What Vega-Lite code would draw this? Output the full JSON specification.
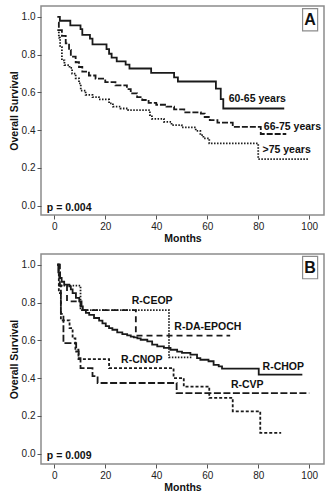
{
  "$schema": "https://vega.github.io/schema/vega-lite/v6.json",
  "padding": {"left": 8, "top": 5, "right": 0, "bottom": 0},
  "background": "white",
  "spacing": 8,
  "resolve": {"scale": {"strokeDash": "independent"}},
  "config": {
    "view": {"stroke": "#8c8c8c", "strokeWidth": 1.5},
    "font": "Liberation Sans",
    "axis": {
      "domain": false, "grid": false, "tickColor": "#555", "tickSize": 4, "tickWidth": 1,
      "labelFont": "Liberation Sans", "labelFontSize": 10, "labelColor": "#222", "labelPadding": 2,
      "titleFont": "Liberation Sans", "titleFontSize": 10.5, "titleFontWeight": "bold", "titleColor": "#111", "titlePadding": 2
    }
  },
  "datasets": {
    "curves": [
      {"panel":"A","group":"60-65","month":1.2,"surv":1.0},
      {"panel":"A","group":"60-65","month":2.2,"surv":0.98},
      {"panel":"A","group":"60-65","month":6.3,"surv":0.955},
      {"panel":"A","group":"60-65","month":10.3,"surv":0.935},
      {"panel":"A","group":"60-65","month":11,"surv":0.905},
      {"panel":"A","group":"60-65","month":14,"surv":0.885},
      {"panel":"A","group":"60-65","month":15,"surv":0.855},
      {"panel":"A","group":"60-65","month":20.5,"surv":0.83},
      {"panel":"A","group":"60-65","month":21.5,"surv":0.805},
      {"panel":"A","group":"60-65","month":22.5,"surv":0.785},
      {"panel":"A","group":"60-65","month":24.5,"surv":0.765},
      {"panel":"A","group":"60-65","month":28,"surv":0.748},
      {"panel":"A","group":"60-65","month":29.5,"surv":0.727},
      {"panel":"A","group":"60-65","month":38,"surv":0.704},
      {"panel":"A","group":"60-65","month":47,"surv":0.68},
      {"panel":"A","group":"60-65","month":48.5,"surv":0.658},
      {"panel":"A","group":"60-65","month":63.4,"surv":0.62},
      {"panel":"A","group":"60-65","month":65.3,"surv":0.565},
      {"panel":"A","group":"60-65","month":66.3,"surv":0.515},
      {"panel":"A","group":"60-65","month":90.2,"surv":0.515},

      {"panel":"A","group":"66-75","month":1.5,"surv":0.97},
      {"panel":"A","group":"66-75","month":1.8,"surv":0.93},
      {"panel":"A","group":"66-75","month":3,"surv":0.90},
      {"panel":"A","group":"66-75","month":4.5,"surv":0.86},
      {"panel":"A","group":"66-75","month":5.8,"surv":0.825},
      {"panel":"A","group":"66-75","month":6.5,"surv":0.79},
      {"panel":"A","group":"66-75","month":8.4,"surv":0.76},
      {"panel":"A","group":"66-75","month":9.7,"surv":0.735},
      {"panel":"A","group":"66-75","month":11,"surv":0.71},
      {"panel":"A","group":"66-75","month":13.6,"surv":0.69},
      {"panel":"A","group":"66-75","month":16.2,"surv":0.673},
      {"panel":"A","group":"66-75","month":20,"surv":0.655},
      {"panel":"A","group":"66-75","month":24,"surv":0.638},
      {"panel":"A","group":"66-75","month":28.5,"surv":0.618},
      {"panel":"A","group":"66-75","month":30,"surv":0.595},
      {"panel":"A","group":"66-75","month":32.5,"surv":0.575},
      {"panel":"A","group":"66-75","month":34.5,"surv":0.56},
      {"panel":"A","group":"66-75","month":37,"surv":0.545},
      {"panel":"A","group":"66-75","month":40,"surv":0.535},
      {"panel":"A","group":"66-75","month":44,"surv":0.525},
      {"panel":"A","group":"66-75","month":47,"surv":0.51},
      {"panel":"A","group":"66-75","month":51,"surv":0.495},
      {"panel":"A","group":"66-75","month":57.5,"surv":0.488},
      {"panel":"A","group":"66-75","month":59,"surv":0.47},
      {"panel":"A","group":"66-75","month":61,"surv":0.453},
      {"panel":"A","group":"66-75","month":64,"surv":0.44},
      {"panel":"A","group":"66-75","month":70,"surv":0.418},
      {"panel":"A","group":"66-75","month":81,"surv":0.38},
      {"panel":"A","group":"66-75","month":91,"surv":0.38},

      {"panel":"A","group":">75","month":1.2,"surv":0.93},
      {"panel":"A","group":">75","month":1.8,"surv":0.89},
      {"panel":"A","group":">75","month":2.3,"surv":0.84},
      {"panel":"A","group":">75","month":3,"surv":0.77},
      {"panel":"A","group":">75","month":4,"surv":0.745},
      {"panel":"A","group":">75","month":6,"surv":0.73},
      {"panel":"A","group":">75","month":7,"surv":0.70},
      {"panel":"A","group":">75","month":8.4,"surv":0.675},
      {"panel":"A","group":">75","month":9.7,"surv":0.648},
      {"panel":"A","group":">75","month":10.4,"surv":0.61},
      {"panel":"A","group":">75","month":12.3,"surv":0.587},
      {"panel":"A","group":">75","month":15,"surv":0.575},
      {"panel":"A","group":">75","month":17.5,"surv":0.563},
      {"panel":"A","group":">75","month":21.5,"surv":0.542},
      {"panel":"A","group":">75","month":23,"surv":0.525},
      {"panel":"A","group":">75","month":26,"surv":0.515},
      {"panel":"A","group":">75","month":29,"surv":0.506},
      {"panel":"A","group":">75","month":37.5,"surv":0.48},
      {"panel":"A","group":">75","month":38.3,"surv":0.46},
      {"panel":"A","group":">75","month":43,"surv":0.444},
      {"panel":"A","group":">75","month":46,"surv":0.427},
      {"panel":"A","group":">75","month":50,"surv":0.415},
      {"panel":"A","group":">75","month":55.5,"surv":0.397},
      {"panel":"A","group":">75","month":57.3,"surv":0.374},
      {"panel":"A","group":">75","month":58.5,"surv":0.357},
      {"panel":"A","group":">75","month":60.8,"surv":0.33},
      {"panel":"A","group":">75","month":80,"surv":0.247},
      {"panel":"A","group":">75","month":100,"surv":0.247},

      {"panel":"B","group":"R-CHOP","month":1.2,"surv":1.0},
      {"panel":"B","group":"R-CHOP","month":1.6,"surv":0.96},
      {"panel":"B","group":"R-CHOP","month":2.3,"surv":0.93},
      {"panel":"B","group":"R-CHOP","month":2.9,"surv":0.91},
      {"panel":"B","group":"R-CHOP","month":3.9,"surv":0.895},
      {"panel":"B","group":"R-CHOP","month":5.9,"surv":0.886},
      {"panel":"B","group":"R-CHOP","month":6.5,"surv":0.87},
      {"panel":"B","group":"R-CHOP","month":7.2,"surv":0.85},
      {"panel":"B","group":"R-CHOP","month":8.5,"surv":0.825},
      {"panel":"B","group":"R-CHOP","month":9.8,"surv":0.806},
      {"panel":"B","group":"R-CHOP","month":10.7,"surv":0.78},
      {"panel":"B","group":"R-CHOP","month":11.2,"surv":0.76},
      {"panel":"B","group":"R-CHOP","month":12.4,"surv":0.745},
      {"panel":"B","group":"R-CHOP","month":13.7,"surv":0.735},
      {"panel":"B","group":"R-CHOP","month":15.6,"surv":0.718},
      {"panel":"B","group":"R-CHOP","month":17.6,"surv":0.704},
      {"panel":"B","group":"R-CHOP","month":18.9,"surv":0.69},
      {"panel":"B","group":"R-CHOP","month":20.2,"surv":0.675},
      {"panel":"B","group":"R-CHOP","month":21.5,"surv":0.665},
      {"panel":"B","group":"R-CHOP","month":22.8,"surv":0.656},
      {"panel":"B","group":"R-CHOP","month":24.7,"surv":0.642},
      {"panel":"B","group":"R-CHOP","month":26.7,"surv":0.633},
      {"panel":"B","group":"R-CHOP","month":28.6,"surv":0.626},
      {"panel":"B","group":"R-CHOP","month":30,"surv":0.62},
      {"panel":"B","group":"R-CHOP","month":31.2,"surv":0.615},
      {"panel":"B","group":"R-CHOP","month":32.6,"surv":0.61},
      {"panel":"B","group":"R-CHOP","month":33.9,"surv":0.603},
      {"panel":"B","group":"R-CHOP","month":36.5,"surv":0.594},
      {"panel":"B","group":"R-CHOP","month":38.4,"surv":0.577},
      {"panel":"B","group":"R-CHOP","month":40.4,"surv":0.568},
      {"panel":"B","group":"R-CHOP","month":43,"surv":0.56},
      {"panel":"B","group":"R-CHOP","month":45.6,"surv":0.55},
      {"panel":"B","group":"R-CHOP","month":48.2,"surv":0.54},
      {"panel":"B","group":"R-CHOP","month":50.1,"surv":0.533},
      {"panel":"B","group":"R-CHOP","month":53.4,"surv":0.524},
      {"panel":"B","group":"R-CHOP","month":56,"surv":0.506},
      {"panel":"B","group":"R-CHOP","month":57.3,"surv":0.497},
      {"panel":"B","group":"R-CHOP","month":60.5,"surv":0.489},
      {"panel":"B","group":"R-CHOP","month":62.5,"surv":0.47},
      {"panel":"B","group":"R-CHOP","month":64.5,"surv":0.462},
      {"panel":"B","group":"R-CHOP","month":65.8,"surv":0.45},
      {"panel":"B","group":"R-CHOP","month":80.2,"surv":0.418},
      {"panel":"B","group":"R-CHOP","month":97.3,"surv":0.418},

      {"panel":"B","group":"R-CEOP","month":2.5,"surv":0.89},
      {"panel":"B","group":"R-CEOP","month":10.3,"surv":0.76},
      {"panel":"B","group":"R-CEOP","month":45,"surv":0.51},
      {"panel":"B","group":"R-CEOP","month":54,"surv":0.51},

      {"panel":"B","group":"R-DA-EPOCH","month":1.2,"surv":1.0},
      {"panel":"B","group":"R-DA-EPOCH","month":2,"surv":0.89},
      {"panel":"B","group":"R-DA-EPOCH","month":5,"surv":0.806},
      {"panel":"B","group":"R-DA-EPOCH","month":10.3,"surv":0.76},
      {"panel":"B","group":"R-DA-EPOCH","month":32,"surv":0.625},
      {"panel":"B","group":"R-DA-EPOCH","month":69,"surv":0.625},

      {"panel":"B","group":"R-CVP","month":1.2,"surv":1.0},
      {"panel":"B","group":"R-CVP","month":2.2,"surv":0.89},
      {"panel":"B","group":"R-CVP","month":2.6,"surv":0.74},
      {"panel":"B","group":"R-CVP","month":3.6,"surv":0.585},
      {"panel":"B","group":"R-CVP","month":8.6,"surv":0.54},
      {"panel":"B","group":"R-CVP","month":9.6,"surv":0.506},
      {"panel":"B","group":"R-CVP","month":10.3,"surv":0.453},
      {"panel":"B","group":"R-CVP","month":15,"surv":0.41},
      {"panel":"B","group":"R-CVP","month":17,"surv":0.374},
      {"panel":"B","group":"R-CVP","month":48,"surv":0.32},
      {"panel":"B","group":"R-CVP","month":100,"surv":0.32},

      {"panel":"B","group":"R-CNOP","month":1.2,"surv":1.0},
      {"panel":"B","group":"R-CNOP","month":1.8,"surv":0.85},
      {"panel":"B","group":"R-CNOP","month":2.6,"surv":0.706},
      {"panel":"B","group":"R-CNOP","month":6,"surv":0.665},
      {"panel":"B","group":"R-CNOP","month":7.2,"surv":0.61},
      {"panel":"B","group":"R-CNOP","month":8.3,"surv":0.55},
      {"panel":"B","group":"R-CNOP","month":9.5,"surv":0.50},
      {"panel":"B","group":"R-CNOP","month":21.5,"surv":0.453},
      {"panel":"B","group":"R-CNOP","month":46.8,"surv":0.40},
      {"panel":"B","group":"R-CNOP","month":50.8,"surv":0.355},
      {"panel":"B","group":"R-CNOP","month":60.8,"surv":0.295},
      {"panel":"B","group":"R-CNOP","month":70,"surv":0.224},
      {"panel":"B","group":"R-CNOP","month":80.8,"surv":0.11},
      {"panel":"B","group":"R-CNOP","month":89,"surv":0.11}
    ],
    "labels": [
      {"panel":"A","text":"60-65 years","month":68.4,"surv":0.563},
      {"panel":"A","text":"66-75 years","month":82.2,"surv":0.418},
      {"panel":"A","text":">75 years","month":81.7,"surv":0.295},
      {"panel":"A","text":"p = 0.004","month":-2.9,"surv":-0.014},
      {"panel":"B","text":"R-CEOP","month":30.4,"surv":0.806},
      {"panel":"B","text":"R-DA-EPOCH","month":47.1,"surv":0.669},
      {"panel":"B","text":"R-CNOP","month":26.2,"surv":0.497},
      {"panel":"B","text":"R-CHOP","month":81.7,"surv":0.457},
      {"panel":"B","text":"R-CVP","month":69.3,"surv":0.365},
      {"panel":"B","text":"p = 0.009","month":-2.9,"surv":-0.014}
    ],
    "boxes": [
      {"panel":"A","letter":"A","month":97.4,"month2":103.3,"surv":1.044,"surv2":0.926,"mid":100.35,"smid":0.985},
      {"panel":"B","letter":"B","month":97.4,"month2":103.3,"surv":1.044,"surv2":0.926,"mid":100.35,"smid":0.985}
    ]
  },
  "vconcat": [
    {
      "width": 283, "height": 209,
      "encoding": {
        "x": {"field":"month","type":"quantitative","scale":{"domain":[-5.2,105.8],"nice":false,"zero":false},"axis":{"values":[0,20,40,60,80,100],"title":"Months"}},
        "y": {"field":"surv","type":"quantitative","scale":{"domain":[-0.049,1.058],"nice":false,"zero":false},"axis":{"values":[0,0.2,0.4,0.6,0.8,1.0],"format":".1f","title":"Overall Survival"}}
      },
      "layer": [
        {
          "data": {"name":"curves"},
          "transform": [{"filter":"datum.panel === 'A'"}],
          "mark": {"type":"line","interpolate":"step-after","strokeWidth":1.8,"color":"#1a1a1a","strokeCap":"butt"},
          "encoding": {
            "detail": {"field":"group"},
            "strokeDash": {"field":"group","type":"nominal","scale":{"domain":["60-65","66-75",">75"],"range":[[1,0],[6,2],[1.5,1.5]]},"legend":null}
          }
        },
        {
          "data": {"name":"boxes"},
          "transform": [{"filter":"datum.panel === 'A'"}],
          "mark": {"type":"rect","fill":"white","stroke":"#8c8c8c","strokeWidth":1.2},
          "encoding": {"x2":{"field":"month2"},"y2":{"field":"surv2"}}
        },
        {
          "data": {"name":"boxes"},
          "transform": [{"filter":"datum.panel === 'A'"}],
          "mark": {"type":"text","font":"Liberation Sans","fontSize":16,"fontWeight":"bold","color":"#111","baseline":"middle","align":"center"},
          "encoding": {"x":{"field":"mid","type":"quantitative"},"y":{"field":"smid","type":"quantitative"},"text":{"field":"letter"}}
        },
        {
          "data": {"name":"labels"},
          "transform": [{"filter":"datum.panel === 'A'"}],
          "mark": {"type":"text","font":"Liberation Sans","fontSize":10.5,"fontWeight":"bold","color":"#111","align":"left","baseline":"middle"},
          "encoding": {"text":{"field":"text"}}
        }
      ]
    },
    {
      "width": 283, "height": 210,
      "encoding": {
        "x": {"field":"month","type":"quantitative","scale":{"domain":[-5.2,105.8],"nice":false,"zero":false},"axis":{"values":[0,20,40,60,80,100],"title":"Months"}},
        "y": {"field":"surv","type":"quantitative","scale":{"domain":[-0.055,1.057],"nice":false,"zero":false},"axis":{"values":[0,0.2,0.4,0.6,0.8,1.0],"format":".1f","title":"Overall Survival"}}
      },
      "layer": [
        {
          "data": {"name":"curves"},
          "transform": [{"filter":"datum.panel === 'B'"}],
          "mark": {"type":"line","interpolate":"step-after","strokeWidth":1.8,"color":"#1a1a1a","strokeCap":"butt"},
          "encoding": {
            "detail": {"field":"group"},
            "strokeDash": {"field":"group","type":"nominal","scale":{"domain":["R-CHOP","R-CEOP","R-DA-EPOCH","R-CVP","R-CNOP"],"range":[[1,0],[1.5,1.5],[6,4],[7,2.5],[3,2]]},"legend":null}
          }
        },
        {
          "data": {"name":"boxes"},
          "transform": [{"filter":"datum.panel === 'B'"}],
          "mark": {"type":"rect","fill":"white","stroke":"#8c8c8c","strokeWidth":1.2},
          "encoding": {"x2":{"field":"month2"},"y2":{"field":"surv2"}}
        },
        {
          "data": {"name":"boxes"},
          "transform": [{"filter":"datum.panel === 'B'"}],
          "mark": {"type":"text","font":"Liberation Sans","fontSize":16,"fontWeight":"bold","color":"#111","baseline":"middle","align":"center"},
          "encoding": {"x":{"field":"mid","type":"quantitative"},"y":{"field":"smid","type":"quantitative"},"text":{"field":"letter"}}
        },
        {
          "data": {"name":"labels"},
          "transform": [{"filter":"datum.panel === 'B'"}],
          "mark": {"type":"text","font":"Liberation Sans","fontSize":10.5,"fontWeight":"bold","color":"#111","align":"left","baseline":"middle"},
          "encoding": {"text":{"field":"text"}}
        }
      ]
    }
  ]
}
